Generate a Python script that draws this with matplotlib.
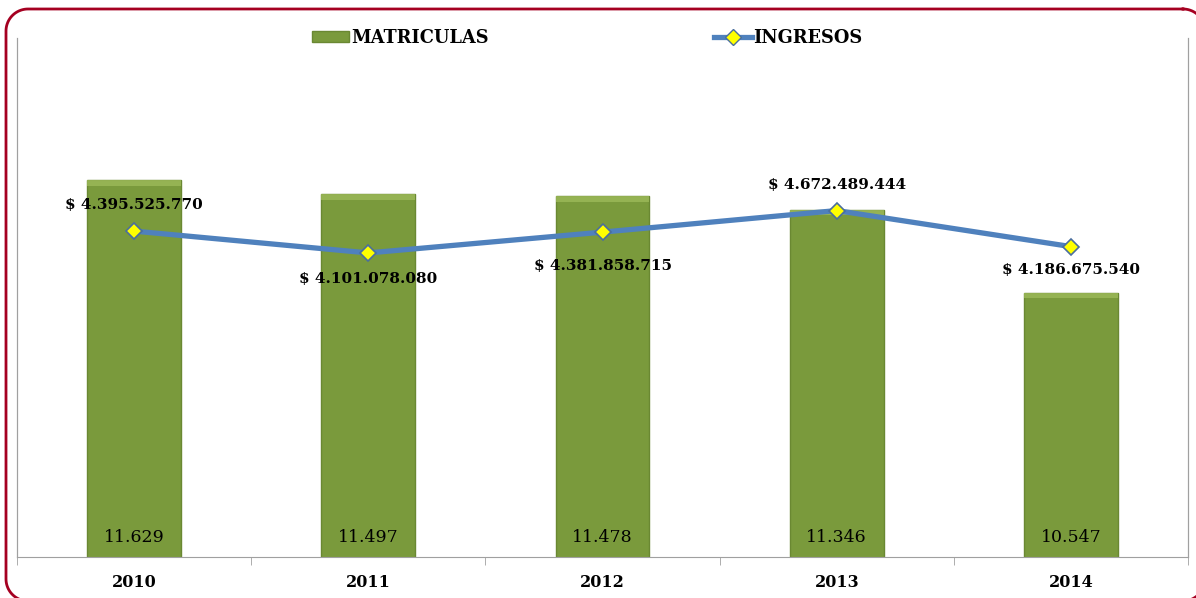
"""Matriculas e ingresos por año."""

import numpy as np
import matplotlib.pyplot as plt
from matplotlib.lines import Line2D
from matplotlib.patches import Patch

years = ["2010", "2011", "2012", "2013", "2014"]
matriculas = [11629, 11497, 11478, 11346, 10547]
ingresos = [4395525770, 4101078080, 4381858715, 4672489444, 4186675540]
ingresos_labels = ["$ 4.395.525.770", "$ 4.101.078.080", "$ 4.381.858.715",
                   "$ 4.672.489.444", "$ 4.186.675.540"]
matriculas_labels = ["11.629", "11.497", "11.478", "11.346", "10.547"]
label_offset = [26, -26, -34, 26, -23]  # pixels above (+) / below (-) the marker

plt.rcParams["font.family"] = ["DejaVu Serif"]

BAR = "#7A9A3C"
BAR_EDGE = "#6A8832"
BEVEL = "#9DBA5A"
LINE = "#4F81BD"
BORDER = "#A50021"

fig = plt.figure(figsize=(11.96, 5.98), dpi=100)


def rounded_box(x0, y0, x1, y1, r, n=20):
    """Outline of a rounded rectangle in pixel units (y down)."""
    pts = []
    corners = [(x1 - r, y0 + r, -90, 0), (x1 - r, y1 - r, 0, 90),
               (x0 + r, y1 - r, 90, 180), (x0 + r, y0 + r, 180, 270)]
    for cx, cy, a0, a1 in corners:
        t = np.radians(np.linspace(a0, a1, n))
        pts.extend(zip(cx + r * np.cos(t), cy + r * np.sin(t)))
    pts.append(pts[0])
    return np.array(pts)


# rounded frame around the chart
bg = fig.add_axes([0, 0, 1, 1], zorder=-1)
bg.set_xlim(0, 1196)
bg.set_ylim(598, 0)
bg.axis("off")
box = rounded_box(6, 9, 1205, 601, 22)
bg.plot(box[:, 0], box[:, 1], color=BORDER, linewidth=2, clip_on=False)

ax = fig.add_axes([17 / 1196, 41 / 598, (1188 - 17) / 1196, (557 - 38) / 598])
ax.patch.set_alpha(0)
x = list(range(len(years)))
ax.bar(x, matriculas, width=0.4, color=BAR, edgecolor=BAR_EDGE, linewidth=1.0, zorder=2)
# light bevel along the top of each bar
bevel = 55
ax.bar(x, [bevel] * len(x), bottom=[m - bevel for m in matriculas], width=0.4,
       color=BEVEL, edgecolor="none", alpha=0.8, zorder=2.5)
ax.set_ylim(8000, 13000)
ax.set_xlim(-0.5, 4.5)
for xi, lab in zip(x, matriculas_labels):
    ax.text(xi, 8000 + 190, lab, ha="center", va="center", fontsize=12.5, color="black", zorder=3)

ax2 = ax.twinx()
ax2.plot(x, ingresos, color=LINE, linewidth=3.8, marker="D", markersize=8,
         markerfacecolor="#FFFF00", markeredgecolor="#4A6E9E", markeredgewidth=1.2, zorder=4)
ax2.set_ylim(0, 7e9)
for xi, v, lab, off in zip(x, ingresos, ingresos_labels, label_offset):
    ax2.annotate(lab, (xi, v), xytext=(0, off), textcoords="offset pixels",
                 ha="center", va="center", fontsize=11, fontweight="bold")

for a in (ax, ax2):
    a.set_yticks([])
    a.spines["top"].set_visible(False)
    for side in ("left", "right", "bottom"):
        a.spines[side].set_color("#A0A0A0")
ax2.spines["bottom"].set_visible(False)

ax.set_xticks(x)
ax.set_xticklabels(years, fontsize=11.5, fontweight="bold")
ax.tick_params(axis="x", which="major", length=0, pad=12)
ax.set_xticks([-0.5, 0.5, 1.5, 2.5, 3.5, 4.5], minor=True)
ax.tick_params(axis="x", which="minor", length=6, direction="out", color="#A0A0A0")

handles = [Patch(facecolor=BAR, edgecolor=BAR_EDGE, label="MATRICULAS"),
           Line2D([], [], color=LINE, linewidth=3.8, marker="D", markersize=8,
                  markerfacecolor="#FFFF00", markeredgecolor="#4A6E9E", label="INGRESOS")]
fig.legend(handles=handles, loc="center", bbox_to_anchor=(0.491, 1 - 38 / 598), ncol=2,
           frameon=False, prop={"weight": "bold", "size": 12.8}, columnspacing=12.7,
           handlelength=2.1, handleheight=0.55, handletextpad=0.1)

fig.savefig("out.png", dpi=100)
